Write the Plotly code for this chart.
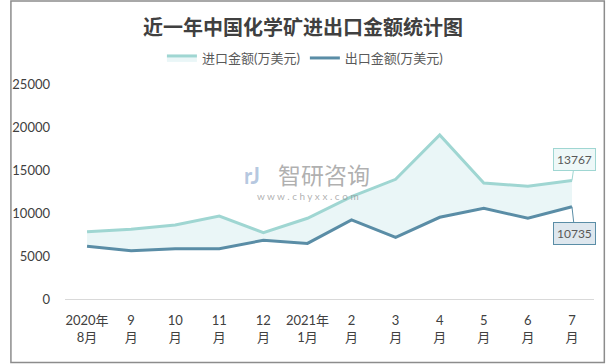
import plotly.graph_objects as go

months = ["2020年<br>8月", "9<br>月", "10<br>月", "11<br>月", "12<br>月", "2021年<br>1月",
          "2<br>月", "3<br>月", "4<br>月", "5<br>月", "6<br>月", "7<br>月"]
import_vals = [7830, 8100, 8600, 9650, 7710, 9390, 11900, 13920, 19070, 13490, 13110, 13767]
export_vals = [6130, 5620, 5850, 5850, 6830, 6460, 9190, 7170, 9500, 10550, 9390, 10735]
y_ticks = [0, 5000, 10000, 15000, 20000, 25000]

IMP_C = "#9FD6D2"
EXP_C = "#5A8DA6"
FONT = "Lato, 'Noto Sans CJK SC', sans-serif"

x_idx = list(range(len(months)))

fig = go.Figure()
fig.add_trace(go.Scatter(
    x=x_idx, y=export_vals, mode="lines", name="出口金额(万美元)",
    line=dict(color=EXP_C, width=3), legendrank=2))
fig.add_trace(go.Scatter(
    x=x_idx, y=import_vals, mode="lines", name="进口金额(万美元)",
    line=dict(color=IMP_C, width=3), fill="tonexty", fillcolor="rgba(225,242,243,0.7)",
    legendrank=1))

# plot domain in pixels: x 56..594, y 84..299
L, R, T, B = 56, 12, 84, 65
W, H = 606, 364
dw, dh = W - L - R, H - T - B

def px(x):
    return (x - L) / dw

def py(y):
    return (H - B - y) / dh

fig.add_annotation(x=11, y=import_vals[-1], text=str(import_vals[-1]), showarrow=True,
                   ax=3, ay=-21, arrowhead=0, arrowwidth=1, arrowcolor=IMP_C,
                   bgcolor="#EEF8F8", bordercolor=IMP_C, borderwidth=1, borderpad=3,
                   font=dict(size=12, color="#595959", family=FONT))
fig.add_annotation(x=11, y=export_vals[-1], text=str(export_vals[-1]), showarrow=True,
                   ax=3, ay=27, arrowhead=0, arrowwidth=1, arrowcolor=EXP_C,
                   bgcolor="#DEE7EE", bordercolor=EXP_C, borderwidth=1, borderpad=3,
                   font=dict(size=12, color="#595959", family=FONT))

# watermark
fig.add_annotation(xref="paper", yref="paper", x=px(319), y=py(174), text="智研咨询",
                   showarrow=False, font=dict(size=23, color="rgba(150,150,150,0.75)",
                                              family="'Noto Sans CJK SC'"))
fig.add_annotation(xref="paper", yref="paper", x=px(303), y=py(196),
                   text="w w w . c h y x x . c o m", showarrow=False,
                   font=dict(size=10, color="rgba(150,150,150,0.75)", family=FONT))
fig.add_annotation(xref="paper", yref="paper", x=px(246), y=py(175), text="<b>rJ</b>",
                   showarrow=False, font=dict(size=22, color="rgba(150,175,210,0.7)",
                                              family=FONT))

# outer border
fig.add_shape(type="rect", xref="paper", yref="paper",
              x0=px(1), x1=px(W - 1.5), y0=py(H - 1.5), y1=py(1),
              line=dict(color="#8C8C8C", width=1.5), layer="below")

fig.update_layout(
    width=W, height=H,
    margin=dict(l=L, r=R, t=T, b=B),
    paper_bgcolor="white", plot_bgcolor="white",
    font=dict(family=FONT, size=13, color="#404040"),
    title=dict(text="<b>近一年中国化学矿进出口金额统计图</b>", x=0.5, xanchor="center",
               y=1 - 28 / H, yanchor="middle",
               font=dict(size=20, color="#404040", family="'Noto Sans CJK SC'")),
    showlegend=True,
    legend=dict(orientation="h", x=px(300), xanchor="center", y=py(58), yanchor="middle",
                font=dict(size=13, color="#595959"), itemwidth=30, traceorder="normal",
                bgcolor="rgba(0,0,0,0)"),
    xaxis=dict(tickmode="array", tickvals=x_idx, ticktext=months, range=[-0.5, 11.5],
               showgrid=False, zeroline=False, showline=True, linecolor="#D9D9D9",
               linewidth=1, ticks="", ticklabelstandoff=9,
               tickfont=dict(size=13, color="#404040")),
    yaxis=dict(range=[0, 25000], tickmode="array", tickvals=y_ticks,
               ticktext=[str(v) for v in y_ticks], showgrid=False, zeroline=False,
               showline=False, ticks="", ticklabelstandoff=14,
               tickfont=dict(size=13, color="#404040")),
)

fig.write_html("out.html", config={"displayModeBar": False},
               post_script="document.body.style.margin='0';document.body.style.overflow='hidden';")
